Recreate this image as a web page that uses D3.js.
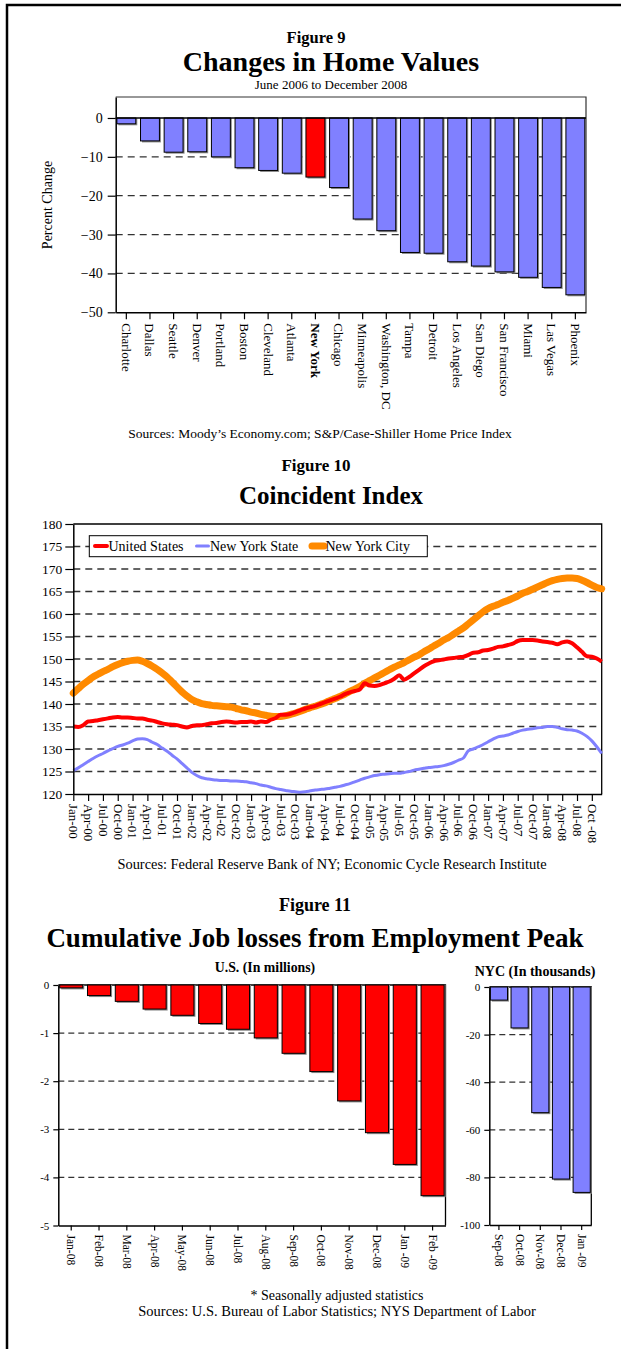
<!DOCTYPE html>
<html>
<head>
<meta charset="utf-8">
<script src="https://cdn.jsdelivr.net/npm/d3@7"></script>
<style>
body { margin: 0; background: #fff; }
text { font-family: "Liberation Serif", "Times New Roman", serif; fill: #000; }
</style>
</head>
<body>
<svg id="page" width="621" height="1349"></svg>
<script>
// Figure 9 - home values
var cities = ["Charlotte", "Dallas", "Seattle", "Denver", "Portland", "Boston", "Cleveland", "Atlanta", "New York", "Chicago",
  "Minneapolis", "Washington, DC", "Tampa", "Detroit", "Los Angeles", "San Diego", "San Francisco", "Miami", "Las Vegas", "Phoenix"]
var cityChange = [-1.5, -5.9, -8.8, -8.7, -10.0, -12.8, -13.5, -14.2, -15.2, -17.9,
  -26.0, -29.0, -34.6, -34.8, -37.0, -38.1, -39.6, -41.0, -43.6, -45.5]
var highlightCity = "New York"
var homeTicks = [0, -10, -20, -30, -40, -50]

// Figure 10 - coincident index, monthly Jan-00 .. Dec-08
var coincTicks = ["Jan-00","Apr-00","Jul-00","Oct-00","Jan-01","Apr-01","Jul-01","Oct-01","Jan-02","Apr-02","Jul-02","Oct-02",
  "Jan-03","Apr-03","Jul-03","Oct-03","Jan-04","Apr-04","Jul-04","Oct-04","Jan-05","Apr-05","Jul-05","Oct-05",
  "Jan-06","Apr-06","Jul-06","Oct-06","Jan-07","Apr-07","Jul-07","Oct-07","Jan-08","Apr-08","Jul-08","Oct -08"]
var usIndex = [135.0,134.9,135.3,136.1,136.2,136.4,136.6,136.8,137.0,137.1,137.0,137.0,
  136.9,136.8,136.8,136.5,136.3,136.0,135.7,135.5,135.4,135.3,135.0,134.8,
  135.1,135.3,135.3,135.5,135.7,135.8,136.0,136.1,136.0,135.9,136.0,136.0,
  136.1,135.9,136.1,136.0,136.5,136.9,137.6,137.6,137.8,138.2,138.6,139.0,
  139.3,139.6,140.0,140.4,140.8,141.2,141.6,142.2,142.6,142.9,143.2,144.6,
  144.1,144.0,144.2,144.6,145.0,145.6,146.4,145.4,146.0,146.8,147.6,148.4,
  149.0,149.5,149.7,149.9,150.1,150.2,150.4,150.5,150.9,151.4,151.5,151.9,
  152.0,152.3,152.7,152.8,153.1,153.4,154.0,154.2,154.2,154.2,154.1,153.9,
  153.8,153.6,153.3,153.7,153.9,153.5,152.6,151.6,150.6,150.5,150.1,149.4]
var nysIndex = [125.2,125.8,126.5,127.2,127.9,128.5,129.0,129.6,130.1,130.6,130.9,131.3,
  131.8,132.2,132.3,132.1,131.5,131.0,130.2,129.5,128.6,127.8,126.8,125.8,
  124.8,124.1,123.6,123.4,123.2,123.1,123.0,123.0,122.9,122.9,122.8,122.7,
  122.5,122.3,122.0,121.8,121.5,121.2,121.0,120.8,120.6,120.5,120.4,120.5,
  120.7,120.9,121.0,121.1,121.3,121.5,121.7,122.0,122.3,122.7,123.1,123.5,
  123.8,124.1,124.3,124.4,124.5,124.6,124.6,124.8,125.0,125.3,125.5,125.7,
  125.9,126.0,126.1,126.3,126.6,127.0,127.5,128.0,129.6,130.0,130.5,131.0,
  131.6,132.2,132.7,132.9,133.1,133.5,133.9,134.2,134.4,134.5,134.7,134.8,
  135.0,135.0,134.8,134.5,134.3,134.2,134.0,133.5,132.8,131.8,130.5,129.0]
var nycIndex = [142.4,143.4,144.4,145.2,146.0,146.6,147.2,147.7,148.3,148.8,149.2,149.5,
  149.7,149.8,149.5,149.0,148.4,147.7,146.9,146.0,144.9,143.8,142.7,141.8,
  141.0,140.5,140.1,139.9,139.7,139.6,139.5,139.4,139.3,139.0,138.7,138.5,
  138.2,138.0,137.7,137.5,137.3,137.2,137.2,137.4,137.7,138.0,138.4,138.8,
  139.2,139.5,139.9,140.3,140.8,141.2,141.7,142.2,142.8,143.3,143.9,144.6,
  145.2,145.8,146.4,147.0,147.6,148.2,148.7,149.2,149.8,150.4,150.9,151.6,
  152.2,152.9,153.5,154.2,154.8,155.5,156.2,156.9,157.8,158.7,159.6,160.5,
  161.2,161.7,162.1,162.6,163.0,163.5,164.0,164.6,165.0,165.5,166.0,166.5,
  167.0,167.4,167.7,167.9,168.0,168.0,167.9,167.5,167.0,166.4,165.9,165.6]
var seriesNames = ["United States", "New York State", "New York City"]
var coincYTicks = [120, 125, 130, 135, 140, 145, 150, 155, 160, 165, 170, 175, 180]

// Figure 11 - job losses
var usMonths = ["Jan-08","Feb-08","Mar-08","Apr-08","May-08","Jun-08","Jul-08","Aug-08","Sep-08","Oct-08","Nov-08","Dec-08","Jan -09","Feb -09"]
var usLoss = [-0.06,-0.22,-0.34,-0.50,-0.63,-0.80,-0.92,-1.10,-1.42,-1.80,-2.41,-3.07,-3.73,-4.38]
var usTicks = [0, -1, -2, -3, -4, -5]
var nycMonths = ["Sep-08","Oct-08","Nov-08","Dec-08","Jan -09"]
var nycLoss = [-5.5,-17.2,-52.8,-80.7,-86.3]
var nycTicks = [0, -20, -40, -60, -80, -100]

var blue = "#8080ff"
var red = "#ff0000"
var orange = "#ff8a00"
var serif = '"Liberation Serif", "Times New Roman", serif'

var svg = d3.select("#page")

// page frame
svg.append("rect").attr("x", 7).attr("y", 5).attr("width", 700).attr("height", 1400)
  .attr("fill", "none").attr("stroke", "#000").attr("stroke-width", 2.5)

function label(txt, x, y, size, bold){
  return svg.append("text").attr("x", x).attr("y", y).attr("text-anchor", "middle")
    .attr("font-size", size).attr("font-weight", bold ? "bold" : "normal").text(txt)
}

function dashed(g, x1, x2, ys, yScale, dash){
  g.selectAll(null).data(ys).enter().append("line")
    .attr("x1", x1).attr("x2", x2)
    .attr("y1", function(d){ return yScale(d) }).attr("y2", function(d){ return yScale(d) })
    .attr("stroke", "#333").attr("stroke-width", 1.3).attr("stroke-dasharray", dash)
}

function styleAxis(g, size){
  g.attr("font-family", serif).attr("font-size", size)
  g.selectAll("line").attr("stroke", "#000").attr("stroke-width", 1.2)
  g.selectAll("path").attr("stroke", "#000").attr("stroke-width", 1.5)
}

function bars(g, data, names, x, y, color){
  // drop shadow first, then bar
  g.selectAll(null).data(data).enter().append("rect")
    .attr("x", function(d, i){ return x(names[i]) + 1.5 })
    .attr("y", y(0))
    .attr("width", x.bandwidth())
    .attr("height", function(d){ return y(d) - y(0) + 1.5 })
    .attr("fill", "#8a8a8a")
  g.selectAll(null).data(data).enter().append("rect")
    .attr("x", function(d, i){ return x(names[i]) })
    .attr("y", y(0))
    .attr("width", x.bandwidth())
    .attr("height", function(d){ return y(d) - y(0) })
    .attr("fill", function(d, i){ return typeof color === "function" ? color(names[i]) : color })
    .attr("stroke", "#000").attr("stroke-width", 1)
}

// ---------- Figure 9 ----------
label("Figure 9", 316, 42.5, 16.5, true)
label("Changes in Home Values", 331, 71, 28, true)
label("June 2006 to December 2008", 331, 89, 13, false)

var x9 = d3.scaleBand().domain(cities).range([115.7, 586]).paddingInner(0.2).paddingOuter(0.05)
var y9 = d3.scaleLinear().domain([-50, 5.4]).range([312.3, 97])
var g9 = svg.append("g")

dashed(g9, 115.7, 586, [-10, -20, -30, -40], y9, "7,5")
g9.append("path").attr("d", "M115.7,97H586V312.3").attr("fill", "none").attr("stroke", "#333").attr("stroke-width", 1.2)
bars(g9, cityChange, cities, x9, y9, function(c){ return c === highlightCity ? red : blue })
g9.append("line").attr("x1", 115.7).attr("x2", 586).attr("y1", y9(0)).attr("y2", y9(0))
  .attr("stroke", "#000").attr("stroke-width", 1.3)

var ax9 = g9.append("g").attr("transform", "translate(115.7,0)")
  .call(d3.axisLeft(y9).tickValues(homeTicks).tickSize(8).tickPadding(5).tickSizeOuter(0))
styleAxis(ax9, 14)
var bx9 = g9.append("g").attr("transform", "translate(0,312.3)")
  .call(d3.axisBottom(x9).tickSize(7).tickSizeOuter(0))
styleAxis(bx9, 13)
bx9.selectAll("text").attr("transform", "rotate(90)").attr("x", 11).attr("y", 0).attr("dy", "0.35em")
  .style("text-anchor", "start")
  .attr("font-weight", function(d){ return d === highlightCity ? "bold" : null })

svg.append("text").attr("transform", "translate(52,205) rotate(-90)").attr("text-anchor", "middle")
  .attr("font-size", 14).text("Percent Change")

label("Sources: Moody\u2019s Economy.com; S&P/Case-Shiller Home Price Index", 320, 438, 13.5, false)

// ---------- Figure 10 ----------
label("Figure 10", 316, 471, 17, true)
label("Coincident Index", 331, 504, 25, true)

var x10 = d3.scaleLinear().domain([0, 107]).range([73.3, 601.7])
var y10 = d3.scaleLinear().domain([120, 180]).range([794, 524])
var g10 = svg.append("g")

dashed(g10, 73.3, 601.7, coincYTicks.slice(1, -1), y10, "7,5")
g10.append("path").attr("d", "M73.3,524H601.7V794").attr("fill", "none").attr("stroke", "#000").attr("stroke-width", 1.3)

var line10 = d3.line().x(function(d, i){ return x10(i) }).y(function(d){ return y10(d) }).curve(d3.curveMonotoneX)
g10.append("path").datum(nycIndex).attr("d", line10).attr("fill", "none")
  .attr("stroke", orange).attr("stroke-width", 7).attr("stroke-linejoin", "round").attr("stroke-linecap", "round")
g10.append("path").datum(nysIndex).attr("d", line10).attr("fill", "none")
  .attr("stroke", blue).attr("stroke-width", 3).attr("stroke-linejoin", "round")
g10.append("path").datum(usIndex).attr("d", line10).attr("fill", "none")
  .attr("stroke", red).attr("stroke-width", 4).attr("stroke-linejoin", "round")

var ax10 = g10.append("g").attr("transform", "translate(73.3,0)")
  .call(d3.axisLeft(y10).tickValues(coincYTicks).tickSize(8).tickPadding(3).tickSizeOuter(0))
styleAxis(ax10, 13.5)
var bx10 = g10.append("g").attr("transform", "translate(0,794)")
  .call(d3.axisBottom(x10).tickValues(coincTicks.map(function(d, i){ return i * 3 }))
    .tickFormat(function(d){ return coincTicks[d / 3] }).tickSize(7).tickSizeOuter(0))
styleAxis(bx10, 13)
bx10.selectAll("text").attr("transform", "rotate(90)").attr("x", 10).attr("y", 0).attr("dy", "0.35em")
  .style("text-anchor", "start")

// legend
var leg = g10.append("g")
leg.append("rect").attr("x", 89.3).attr("y", 535.7).attr("width", 338).attr("height", 21)
  .attr("fill", "#fff").attr("stroke", "#000").attr("stroke-width", 1)
var legColors = [red, blue, orange]
var legWidths = [4, 3, 7]
var legX = [93, 194.5, 310]
seriesNames.forEach(function(name, i){
  leg.append("line").attr("x1", legX[i] + 2).attr("x2", legX[i] + 14).attr("y1", 546).attr("y2", 546)
    .attr("stroke", legColors[i]).attr("stroke-width", legWidths[i]).attr("stroke-linecap", "round")
  leg.append("text").attr("x", legX[i] + 15.5).attr("y", 551).attr("font-size", 14).text(name)
})

label("Sources: Federal Reserve Bank of NY; Economic Cycle Research Institute", 332, 869, 14.4, false)

// ---------- Figure 11 ----------
label("Figure 11", 315, 910.5, 18, true)
label("Cumulative Job losses from Employment Peak", 315, 946.5, 27, true)
label("U.S. (In millions)", 265, 971.5, 13.8, true)
label("NYC (In thousands)", 535, 976, 14, true)

function jobPanel(names, values, ticks, x0, x1, yTop, yBot){
  var x = d3.scaleBand().domain(names).range([x0, x1]).paddingInner(0.17).paddingOuter(0.05)
  var y = d3.scaleLinear().domain([ticks[ticks.length - 1], 0]).range([yBot, yTop])
  var g = svg.append("g")
  dashed(g, x0, x1, ticks.slice(1, -1), y, "6,4")
  g.append("path").attr("d", "M" + x0 + "," + yTop + "H" + x1 + "V" + yBot)
    .attr("fill", "none").attr("stroke", "#000").attr("stroke-width", 1.3)
  return { g: g, x: x, y: y, ticks: ticks }
}

var us = jobPanel(usMonths, usLoss, usTicks, 58.3, 445.5, 985, 1225.5)
bars(us.g, usLoss, usMonths, us.x, us.y, red)
var nyc = jobPanel(nycMonths, nycLoss, nycTicks, 489.3, 591.3, 987, 1225)
bars(nyc.g, nycLoss, nycMonths, nyc.x, nyc.y, blue)

;[[us, 58.3, 1225.5], [nyc, 489.3, 1225]].forEach(function(p){
  var a = p[0].g.append("g").attr("transform", "translate(" + p[1] + ",0)")
    .call(d3.axisLeft(p[0].y).tickValues(p[0].ticks).tickFormat(function(d){ return String(d) })
      .tickSize(5).tickPadding(4).tickSizeOuter(0))
  styleAxis(a, 11)
  var b = p[0].g.append("g").attr("transform", "translate(0," + p[2] + ")")
    .call(d3.axisBottom(p[0].x).tickSize(5).tickSizeOuter(0))
  styleAxis(b, 11.5)
  b.selectAll("text").attr("transform", "rotate(90)").attr("x", 9).attr("y", 0).attr("dy", "0.35em")
    .style("text-anchor", "start")
})

label("* Seasonally adjusted statistics", 337, 1300, 14, false)
label("Sources: U.S. Bureau of Labor Statistics; NYS Department of Labor", 337, 1316, 14.5, false)
</script>
</body>
</html>
